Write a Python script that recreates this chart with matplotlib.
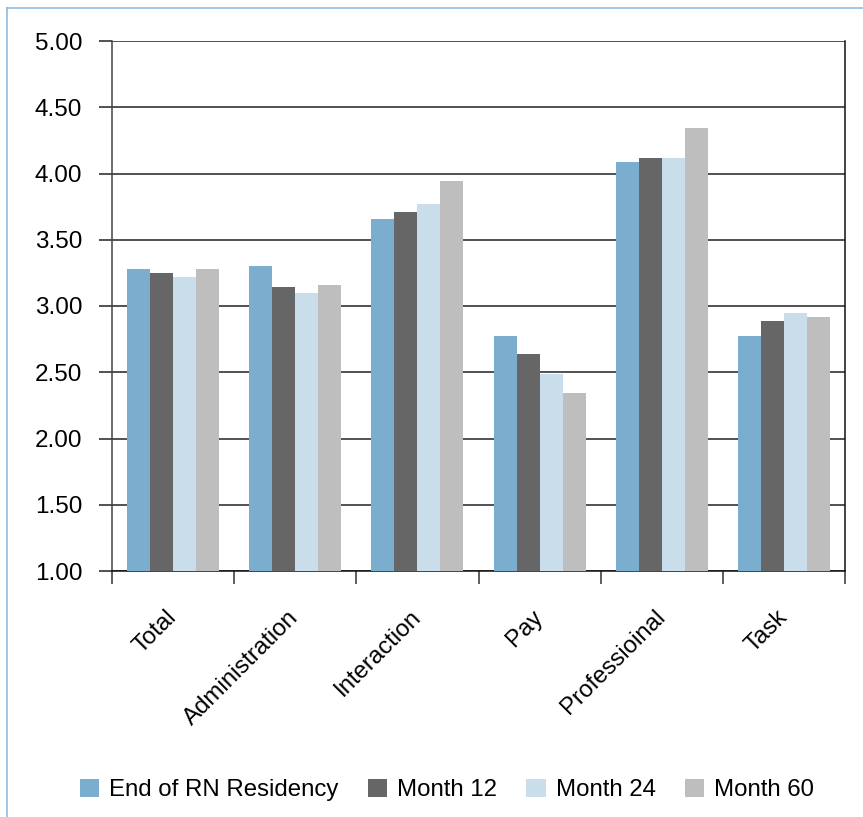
import numpy as np
import matplotlib
matplotlib.use("Agg")
import matplotlib.pyplot as plt
from matplotlib.lines import Line2D

plt.rcParams['font.family'] = ['Liberation Sans', 'DejaVu Sans']

categories = ['Total', 'Administration', 'Interaction', 'Pay', 'Professioinal', 'Task']
series_names = ['End of RN Residency', 'Month 12', 'Month 24', 'Month 60']
end_residency = [3.28, 3.30, 3.66, 2.77, 4.09, 2.77]
month_12 = [3.25, 3.14, 3.71, 2.64, 4.12, 2.89]
month_24 = [3.22, 3.10, 3.77, 2.49, 4.12, 2.95]
month_60 = [3.28, 3.16, 3.94, 2.34, 4.34, 2.92]
y_ticks = [1.0, 1.5, 2.0, 2.5, 3.0, 3.5, 4.0, 4.5, 5.0]

colors = ['#7BADCF', '#666666', '#C9DDEB', '#BEBEBE']

fig = plt.figure(figsize=(8.63, 8.17), dpi=100)
ax = fig.add_axes([112 / 863, 1 - 571 / 817, (845 - 112) / 863, 530 / 817])

x = np.arange(len(categories))
w = 0.188
all_series = [end_residency, month_12, month_24, month_60]
for i, vals in enumerate(all_series):
    ax.bar(x + (i - 1.5) * w, np.array(vals) - 1.0, width=w, bottom=1.0,
           color=colors[i], label=series_names[i], zorder=3)

ax.set_xlim(-0.5, len(categories) - 0.5)
ax.set_ylim(1.0, 5.0)
ax.set_yticks(y_ticks)
ax.set_yticklabels([f"{v:.2f}" for v in y_ticks], fontsize=17.5)
ax.yaxis.grid(True, color='#222222', linewidth=1.1, zorder=0)
ax.tick_params(axis='y', length=9.5, width=1.1, color='#222222', pad=12)

ax.set_xticks(x)
ax.set_xticklabels(categories, fontsize=17.3, rotation=45, ha='right',
                   va='center', rotation_mode='anchor')
ax.tick_params(axis='x', which='major', length=0, pad=31)
ax.set_xticks(np.arange(-0.5, len(categories), 1), minor=True)
ax.tick_params(axis='x', which='minor', length=9, width=1.1, color='#333333')

for side in ['left', 'bottom', 'right']:
    ax.spines[side].set_linewidth(1.1)
ax.spines['left'].set_color('#444444')
ax.spines['bottom'].set_color('#111111')
ax.spines['right'].set_color('#111111')
ax.spines['top'].set_visible(False)

ax.legend(loc='center', bbox_to_anchor=(447 / 863, 1 - 790 / 817),
          bbox_transform=fig.transFigure, ncol=4, frameon=False,
          fontsize=17.3, handlelength=0.8, handleheight=0.8,
          handletextpad=0.42, columnspacing=1.22)

# light blue frame on the left and top
fig.add_artist(Line2D([7 / 863, 7 / 863], [0, 1 - 8 / 817], color='#8DBDDF', linewidth=1.2))
fig.add_artist(Line2D([7 / 863, 1], [1 - 8 / 817, 1 - 8 / 817], color='#8DBDDF', linewidth=1.2))

fig.savefig('out.png', dpi=100)
